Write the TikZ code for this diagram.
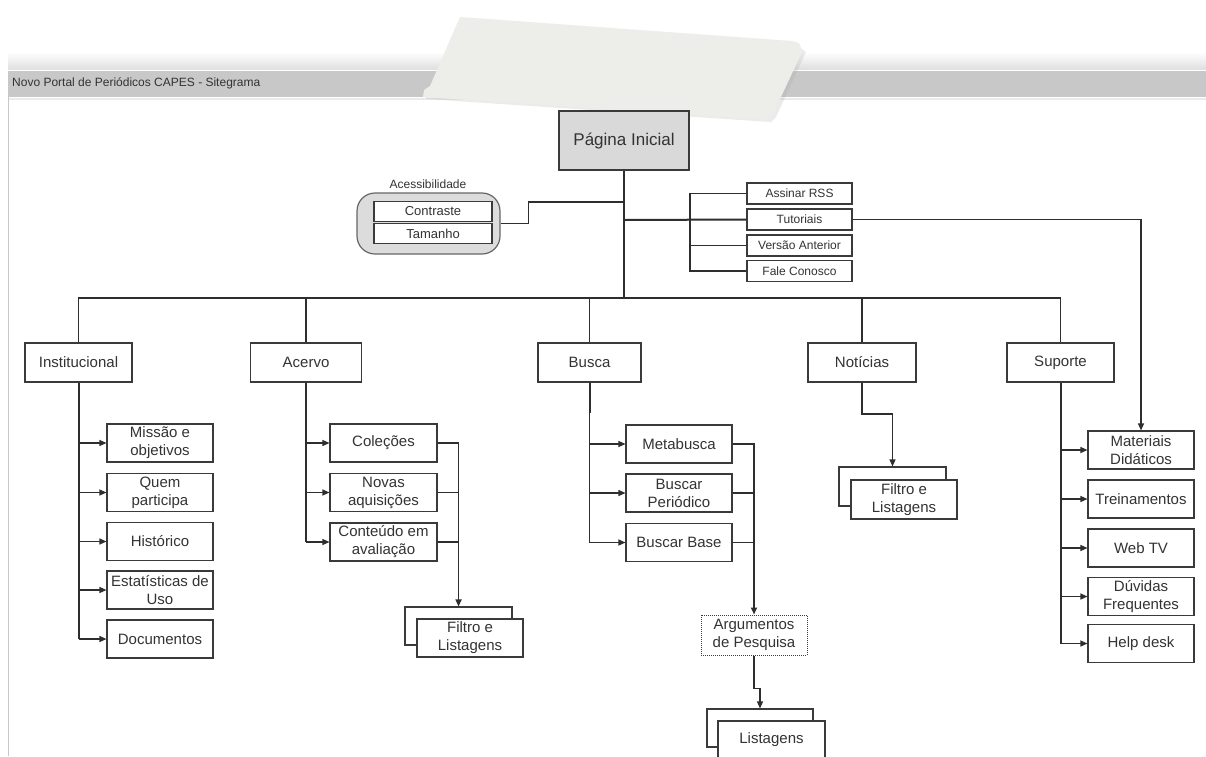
\documentclass[tikz,border=0pt]{standalone}
\usepackage{fontspec}
\setmainfont{Liberation Sans}
\usetikzlibrary{arrows.meta,calc}
\definecolor{boxline}{HTML}{3A3A3A}
\definecolor{wire}{HTML}{2E2E2E}
\definecolor{txt}{HTML}{333333}
\definecolor{barfill}{HTML}{C8C8C8}
\definecolor{homefill}{HTML}{D9D9D9}
\definecolor{grpfill}{HTML}{DCDCDC}
\definecolor{paper}{HTML}{EDEDE9}
\tikzset{
  box/.style={draw=boxline, line width=1.1pt, fill=white, inner sep=0pt, align=center,
    text=txt, minimum width=106pt, minimum height=38pt, font=\fontsize{15}{18}\selectfont},
  topbox/.style={box, minimum height=39pt},
  smallbox/.style={box, minimum width=105pt, minimum height=21pt, font=\fontsize{12}{14}\selectfont},
  dotbox/.style={box, dash pattern=on 1pt off 1pt, line width=1pt},
  wirel/.style={draw=wire, line width=1.2pt},
  thick wire/.style={draw=wire, line width=2pt},
  arr/.style={wirel, -{Triangle[length=7pt,width=6pt]}},
}
\begin{document}
\begin{tikzpicture}[x=1pt,y=-1pt]
\clip (0,0) rectangle (1206,756);
\useasboundingbox (0,0) rectangle (1206,756);
\fill[white] (0,0) rectangle (1206,756);

% page frame and title bar
\shade[top color=white, bottom color=black!13] (8,52) rectangle (1206,70);
\fill[barfill] (8,70) rectangle (1206,97);
\draw[white, line width=0.8pt] (8,70.5) -- (1206,70.5);
\draw[black!8, line width=2pt] (8,98.5) -- (1206,98.5);
\draw[black!22, line width=1pt] (8,97) -- (8,756);
\node[anchor=west, text=txt, font=\fontsize{12}{14}\selectfont, inner sep=0pt] (title) at (12,83.5)
  {Novo Portal de Periódicos CAPES - Sitegrama};

% taped note over the bar
\fill[black!35, opacity=0.22] (463,19) -- (795,44) -- (806,52) -- (776,117) -- (771,122) -- (426,99) -- (425,92) -- (432,86) -- cycle;
\fill[paper] (460,17) -- (792,41) .. controls (800,43) .. (802,52) -- (773,114) -- (768,120) -- (423,97)
  -- (424,90) -- (430,86) -- cycle;

% home
\node[box, fill=homefill, minimum width=130pt, minimum height=59pt, font=\fontsize{17}{20}\selectfont]
  (home) at (624,140.5) {Página Inicial};

% accessibility group
\node[draw=black!60, line width=1.2pt, fill=grpfill, rounded corners=18pt, minimum width=143pt,
  minimum height=61pt, inner sep=0pt] (acc) at (428.5,223.5) {};
\node[text=txt, font=\fontsize{12}{14}\selectfont, inner sep=0pt] (acctitle) at (428,184) {Acessibilidade};
\node[box, minimum width=118pt, minimum height=20pt, font=\fontsize{13}{15}\selectfont] (contr) at (433,211.5) {Contraste};
\node[box, minimum width=118pt, minimum height=20pt, font=\fontsize{13}{15}\selectfont] (tam) at (433,233.5) {Tamanho};

% top menu
\node[smallbox] (rss) at (799.5,193.5) {Assinar RSS};
\node[smallbox] (tut) at (799.5,219.5) {Tutoriais};
\node[smallbox] (vers) at (799.5,245.5) {Versão Anterior};
\node[smallbox] (fale) at (799.5,271) {Fale Conosco};

% sections
\node[topbox, minimum width=107pt] (inst) at (78.5,362.5) {Institucional};
\node[topbox, minimum width=111pt] (acer) at (306,362.5) {Acervo};
\node[topbox, minimum width=103pt] (busc) at (589.5,362.5) {Busca};
\node[topbox, minimum width=108pt] (noti) at (862,362.5) {Notícias};
\node[topbox, minimum width=107pt] (supo) at (1060.5,362.5) {Suporte};

% Institucional
\node[box] (miss) at (160,443) {Missão e\\objetivos};
\node[box] (quem) at (160,492.5) {Quem\\participa};
\node[box] (hist) at (160,541.5) {Histórico};
\node[box] (esta) at (160,590) {Estatísticas de\\Uso};
\node[box] (docu) at (160,639) {Documentos};

% Acervo
\node[box, minimum width=107pt] (cole) at (383.5,443) {Coleções};
\node[box, minimum width=107pt] (nova) at (383.5,492.5) {Novas\\aquisições};
\node[box, minimum width=107pt] (cont) at (383.5,542) {Conteúdo em\\avaliação};
\node[box, minimum width=107pt] (filAback) at (458.5,626) {};
\node[box, minimum width=106pt] (filA) at (470,638) {Filtro e\\Listagens};

% Busca
\node[box] (meta) at (679,444) {Metabusca};
\node[box] (bper) at (679,493) {Buscar\\Periódico};
\node[box] (bbas) at (679,542.5) {Buscar Base};
\node[dotbox, minimum height=40pt] (argu) at (754,635) {Argumentos\\de Pesquisa};
\node[box] (lisback) at (760,728) {};
\node[box, minimum width=107pt] (list) at (771.5,740) {Listagens};

% Notícias
\node[box, minimum width=107pt, minimum height=39pt] (filNback) at (892.5,486.5) {};
\node[box, minimum height=39pt] (filN) at (904,499.5) {Filtro e\\Listagens};

% Suporte
\node[box] (mate) at (1141,450) {Materiais\\Didáticos};
\node[box] (trei) at (1141,499) {Treinamentos};
\node[box] (webt) at (1141,548) {Web TV};
\node[box] (duvi) at (1141,596.5) {Dúvidas\\Frequentes};
\node[box] (help) at (1141,643.5) {Help desk};

% junction points
\coordinate (hub) at (624,298);
\coordinate (accj) at (624,202);
\coordinate (menuj) at (624,220);
\coordinate (menux) at (690,220);

% main trunk
\draw[wirel] (home.south) -- (hub);
\draw[wirel] (inst.north) |- (hub) -| (supo.north);
\draw[wirel] (acer.north) -- (acer.north |- hub);
\draw[wirel] (busc.north) -- (busc.north |- hub);
\draw[wirel] (noti.north) -- (noti.north |- hub);

% accessibility link
\draw[wirel] (acc.east) -- ++(28,0) |- (accj);

% top menu links
\draw[thick wire] (menuj) -- (tut.west);
\draw[wirel] (rss.west) -| (menux) |- (vers.west);
\draw[wirel] (menux) |- (fale.west);
\draw[arr] (tut.east) -| (mate.north);

% Institucional children
\draw[thick wire] (inst.south) -- (inst.south |- docu.west) coordinate (iend);
\foreach \n in {miss,quem,hist,esta,docu}
  \draw[arr] (inst.south |- \n.west) -- (\n.west);

% Acervo children
\draw[wirel] (acer.south) -- (acer.south |- cont.west);
\foreach \n in {cole,nova,cont}
  \draw[arr] (acer.south |- \n.west) -- (\n.west);
\draw[wirel] (cole.east) -- ++(21,0) coordinate (acr) -- (acr |- cont.east);
\draw[wirel] (nova.east) -- (acr |- nova.east);
\draw[wirel] (cont.east) -- (acr |- cont.east);
\draw[arr, line width=1.6pt] (acr |- cont.east) -- (acr |- filAback.north);

% Busca children
\draw[thick wire] (busc.south) -- ++(0,30);
\draw[wirel] (busc.south) -- (busc.south |- bbas.west);
\foreach \n in {meta,bper,bbas}
  \draw[arr] (busc.south |- \n.west) -- (\n.west);
\draw[wirel] (meta.east) -- (argu.north |- meta.east) -- (argu.north |- bbas.east);
\draw[wirel] (bper.east) -- (argu.north |- bper.east);
\draw[wirel] (bbas.east) -- (argu.north |- bbas.east);
\draw[arr, line width=1.6pt] (argu.north |- bbas.east) -- (argu.north);
\draw[arr] (argu.south) -- ++(0,33) -- ++(6,0) -- (lisback.north);

% Notícias child
\draw[arr] (noti.south) |- (filNback.north |- 0,414) -- (filNback.north);

% Suporte children
\draw[thick wire] (supo.south) -- (supo.south |- help.west);
\foreach \n in {mate,trei,webt,duvi,help}
  \draw[arr] (supo.south |- \n.west) -- (\n.west);
\end{tikzpicture}
\end{document}
